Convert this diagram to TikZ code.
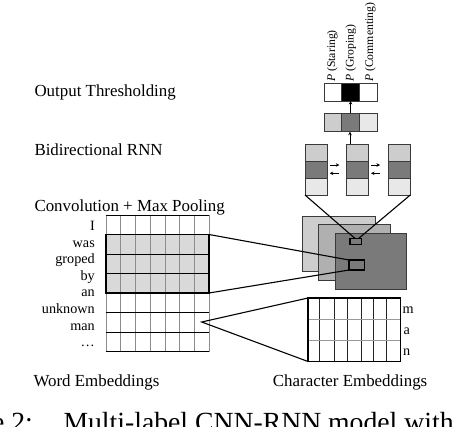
\documentclass[tikz,border=0pt]{standalone}
\usepackage{fontspec}
\setmainfont{Liberation Serif}
\usetikzlibrary{calc,arrows.meta}
\definecolor{lgray}{HTML}{CDCDCD}
\definecolor{mgray}{HTML}{B0B0B0}
\definecolor{dgray}{HTML}{7A7A7A}
\definecolor{pgray}{HTML}{E8E8E8}
\definecolor{sgray}{HTML}{D9D9D9}
\definecolor{edge}{HTML}{3A3A3A}
\newcommand{\boxat}[6]{\node[cellbox,minimum width=#4pt,minimum height=#5pt,#6] (#1) at (#2,#3) {};}
\begin{document}
\begin{tikzpicture}[x=1pt,y=-1pt,
  cellbox/.style={draw=edge,line width=0.9pt,inner sep=0pt,outer sep=0pt,anchor=north west},
  lbl/.style={inner sep=0pt,anchor=base west,font=\fontsize{16.9}{19}\selectfont},
  wrd/.style={inner sep=0pt,anchor=base east,font=\fontsize{14.2}{16}\selectfont},
  chr/.style={inner sep=0pt,anchor=base west,font=\fontsize{14.2}{16}\selectfont},
  plbl/.style={inner sep=0pt,anchor=base west,rotate=90,font=\fontsize{11.7}{13}\selectfont},
  captxt/.style={inner sep=0pt,font=\fontsize{27.7}{31}\selectfont},
  conn/.style={line width=1.1pt,black},
  arr/.style={line width=0.9pt,-{Stealth[length=3.5pt,width=3.5pt]}},
  hgrid/.style={line width=0.7pt,black},
  vgrid/.style={line width=0.7pt,black!45},
  thickbox/.style={line width=1.5pt,black}
]
\path[use as bounding box] (0,0) rectangle (460,426);
\clip (0,0) rectangle (460,426);

% ---------- left labels
\node[lbl] (lOut) at (34.3,96) {Output Thresholding};
\node[lbl] (lRnn) at (34.3,155) {Bidirectional RNN};
\node[lbl] (lConv) at (34.3,211) {Convolution + Max Pooling};
\node[lbl] (lWord) at (33.3,386) {Word Embeddings};
\node[lbl] (lChar) at (272.7,386) {Character Embeddings};

% ---------- output thresholding row
\boxat{o1}{324}{83.3}{17.7}{17.7}{fill=white}
\boxat{o2}{341.7}{83.3}{17.7}{17.7}{fill=black}
\boxat{o3}{359.4}{83.3}{17.8}{17.7}{fill=white}
\node[plbl] (p1) at (335,82) {\textit{P} (Staring)};
\node[plbl] (p2) at (353.5,82) {\textit{P} (Groping)};
\node[plbl] (p3) at (373,82) {\textit{P} (Commenting)};

% ---------- RNN output row
\boxat{r1}{324}{113.3}{17.7}{18.4}{fill=lgray}
\boxat{r2}{341.7}{113.3}{17.7}{18.4}{fill=dgray}
\boxat{r3}{359.4}{113.3}{17.8}{18.4}{fill=pgray}

% ---------- RNN columns
\foreach \n/\x in {a/305,b/346.7,c/388.3}{
  \boxat{\n1}{\x}{144}{22}{17}{fill=lgray}
  \boxat{\n2}{\x}{161}{22}{17}{fill=dgray}
  \boxat{\n3}{\x}{178}{22}{17}{fill=pgray}
}
\coordinate (bTop) at ($(b1.north west)+(3.3,0)$);
\draw[arr] (bTop) -- (bTop |- r2.south);
\draw[arr] (r2.south |- r2.north) -- (r2.south |- o2.south);

% bidirectional arrows
\coordinate (ab1) at ($(a2.north east)+(2.7,4)$);
\coordinate (ab2) at ($(b2.north west)+(-7.4,4)$);
\coordinate (ab3) at ($(a2.north east)+(2.7,12.3)$);
\coordinate (ab4) at ($(b2.north west)+(-7.4,12.3)$);
\draw[arr] (ab1) -- (ab2);
\draw[arr] (ab4) -- (ab3);
\coordinate (bc1) at ($(b2.north east)+(2.3,4)$);
\coordinate (bc2) at ($(c2.north west)+(-8.3,4)$);
\coordinate (bc3) at ($(b2.north east)+(2.3,12.3)$);
\coordinate (bc4) at ($(c2.north west)+(-8.3,12.3)$);
\draw[arr] (bc1) -- (bc2);
\draw[arr] (bc4) -- (bc3);

% ---------- feature maps
\boxat{f1}{302.7}{216.7}{72.3}{55}{fill=lgray}
\boxat{f2}{318.3}{224.3}{71.7}{56.4}{fill=mgray}
\boxat{f3}{335}{233.3}{71.7}{56}{fill=dgray}
\node[cellbox,draw=black,line width=1.2pt,fill=dgray,minimum width=11.7pt,minimum height=6pt] (fs) at (350,238.3) {};
\node[cellbox,draw=black,line width=1.4pt,fill=dgray,minimum width=15.3pt,minimum height=10pt] (fb) at (349,260) {};

\draw[conn] (a3.south west) -- ($(fs.north west)!0.42!(fs.north east)$);
\draw[conn] (c3.south east) -- ($(fs.north west)!0.75!(fs.north east)$);

% ---------- word embeddings grid
\node[inner sep=0pt,outer sep=0pt,anchor=north west,minimum width=103pt,minimum height=136.5pt] (wg) at (106,215) {};
\fill[sgray] (106,234.5) rectangle (209,293);
\foreach \i in {0,...,7}{
  \draw[vgrid] ($(wg.north west)+(\i*14.714,0)$) -- ($(wg.south west)+(\i*14.714,0)$);
}
\foreach \j in {0,...,7}{
  \draw[hgrid] ($(wg.north west)+(0,\j*19.5)$) -- ($(wg.north east)+(0,\j*19.5)$);
}
\node[draw=black,line width=1.5pt,inner sep=0pt,outer sep=0pt,anchor=north west,minimum width=103pt,minimum height=58.5pt] (sel) at (106,234.5) {};

\foreach \w/\yy [count=\k] in {I/230.5,was/247.1,groped/263.7,by/280.3,an/296.9,unknown/313.5,man/330.1,…/346.7}{
  \node[wrd] (w\k) at (95,\yy) {\w};
}

\draw[conn] (sel.north east) -- (fb.north west);
\draw[conn] (sel.south east) -- (fb.south west);

% ---------- character embeddings grid
\node[inner sep=0pt,outer sep=0pt,anchor=north west,minimum width=92.5pt,minimum height=63.5pt,fill=white] (cg) at (308,298) {};
\foreach \xx in {319,334.3,347.7,361,373.3,386.7}{
  \draw[line width=0.7pt,black!85] (\xx,298) -- (\xx,361.5);
}
\foreach \yy in {319,340}{
  \draw[line width=0.7pt,black!40] (308,\yy) -- (400.5,\yy);
}
\draw[thickbox] (cg.north west) rectangle (cg.south east);
\node[chr] (cm) at (402.5,313.5) {m};
\node[chr] (ca) at (403.5,334.5) {a};
\node[chr] (cn) at (403,355.5) {n};

\coordinate (apex) at (201.7,322);
\draw[conn] (cg.north west) -- (apex) -- (cg.south west);

% ---------- cropped caption
\node[captxt,anchor=base east] (capA) at (33,431) {Figure 2:};
\node[captxt,anchor=base west] (capB) at (63.3,431) {Multi-label CNN-RNN model with};
\end{tikzpicture}
\end{document}
